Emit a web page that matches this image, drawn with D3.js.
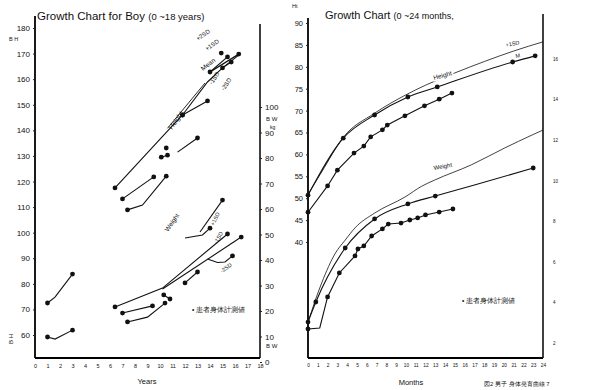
<!DOCTYPE html>
<html>
<head>
<meta charset="utf-8">
<script src="https://cdn.jsdelivr.net/npm/d3@7"></script>
<style>
  body { margin: 0; background: #fff; }
  text { font-family: "Liberation Sans", Arial, sans-serif; fill: #111; }
</style>
</head>
<body>
<svg id="chart" width="590" height="390"></svg>
<script>
// ---- left panel: 0-18 years, [year, cm] / [year, kg] ----
const yearTicks = d3.range(0, 19);
const heightTicks = d3.range(60, 181, 10);
const weightTicks = d3.range(0, 101, 10);

const boyHeightMean = [[6.4, 117.5], [9.8, 135.5], [11.8, 146.0], [13.8, 158.9], [15.0, 164.4], [16.4, 169.8]];
const boyHeightInner = [[10.6, 140.8], [13.6, 158.5]];
const boyHeightA = [[11.8, 146.0], [13.8, 151.5]];
const boyHeightTop1 = [[14.0, 162.8], [16.3, 169.8]];
const boyHeightTop2 = [[14.0, 162.8], [15.4, 168.7]];
const boyHeightTop3 = [[15.0, 164.4], [15.7, 166.7]];
const boyHeightTop4 = [[14.9, 170.2]];
const boyHeightB = [[7.0, 113.2], [9.5, 121.8]];
const boyHeightC = [[7.4, 108.9], [8.6, 110.8], [10.5, 122.1]];
const boyHeightD = [[10.1, 129.5], [10.6, 130.3]];
const boyHeightE = [[10.5, 133.1]];
const boyHeightF = [[11.4, 131.5], [13.0, 137.0]];
const boyHeightEarly = [[1.0, 72.5], [1.6, 74.8], [3.0, 83.8]];

const boyWeightMean = [[6.4, 21.6], [10.2, 29.0], [15.4, 50.2]];
const boyWeightLow = [[10.2, 28.6], [16.5, 49.0]];
const boyWeightA = [[12.0, 31.0], [13.0, 35.3]];
const boyWeightB = [[13.8, 40.4], [14.6, 39.0], [15.2, 39.2], [15.8, 41.6]];
const boyWeightC = [[13.2, 51.0], [15.0, 63.5]];
const boyWeightD = [[12.0, 48.6], [13.4, 49.8], [14.0, 52.5]];
const boyWeightE = [[7.0, 19.2], [9.4, 22.0]];
const boyWeightF = [[7.4, 15.7], [9.0, 17.6], [10.4, 23.1]];
const boyWeightG = [[10.3, 26.3], [10.8, 24.7]];
const boyWeightEarly = [[1.0, 9.8], [1.6, 9.0], [3.0, 12.5]];

// ---- right panel: 0-24 months, [month, cm] / [month, kg] ----
const monthTicks = d3.range(0, 25);
const infantHeightTicks = d3.range(40, 91, 5);
const infantWeightTicks = d3.range(2, 17, 2);

const infantHeightUpper = [[0, 50.9], [1.4, 56], [3.6, 63.9], [6.8, 69.4], [10, 73.6], [12, 75.8], [15, 78.6], [18, 81.2], [21, 83.6], [24, 85.7]];
const infantHeightMean = [[0, 50.7], [3.6, 63.7], [6.8, 69.0], [10.2, 73.1], [13.2, 75.4], [20.9, 81.1], [23.2, 82.5]];
const infantHeightPatient = [[0, 46.8], [2.0, 52.8], [3.0, 56.4], [4.7, 60.3], [5.7, 61.9], [6.4, 64.0], [7.6, 65.6], [8.1, 66.7], [9.9, 68.8], [11.9, 71.1], [13.4, 72.6], [14.7, 74.0]];

const infantWeightUpper = [[0, 3.03], [1.4, 4.96], [2.8, 6.43], [3.8, 7.07], [4.8, 7.67], [6.8, 8.40], [9.9, 9.19], [11.6, 9.72], [12.9, 10.02], [16.7, 10.78], [20.1, 11.61], [22.9, 12.25], [24, 12.49]];
const infantWeightMean = [[0, 3.03], [0.8, 4.02], [3.8, 6.68], [6.8, 8.11], [10.2, 8.85], [13.0, 9.24], [17.0, 9.78], [23.0, 10.62]];
const infantWeightPatient = [[0, 2.69], [1.2, 2.74], [2.0, 4.27], [3.2, 5.45], [4.8, 6.29], [5.1, 6.63], [5.7, 6.78], [6.5, 7.27], [7.6, 7.62], [8.2, 7.86], [9.5, 7.91], [10.4, 8.06], [11.2, 8.16], [12.0, 8.31], [13.4, 8.45], [14.8, 8.60]];

const svg = d3.select('#chart');

// scales
const xYear = d3.scaleLinear().domain([0, 18]).range([35, 260]);
const yHeight = d3.scaleLinear().domain([60, 180]).range([335, 28]);
const yWeight = d3.scaleLinear().domain([0, 100]).range([362, 107]);

const xMonth = d3.scaleLinear().domain([0, 24]).range([308, 543]);
const yInfantHt = d3.scaleLinear().domain([40, 90]).range([242, 23]);
const yInfantWt = d3.scaleLinear().domain([2, 12]).range([343, 140]);

function drawSeries(data, x, y, opts) {
  const o = Object.assign({ width: 1.1, markers: 'all', curve: d3.curveLinear, dash: null }, opts || {});
  if (data.length > 1) {
    svg.append('path')
      .datum(data)
      .attr('fill', 'none')
      .attr('stroke', '#111')
      .attr('stroke-width', o.width)
      .attr('stroke-dasharray', o.dash)
      .attr('d', d3.line().x(d => x(d[0])).y(d => y(d[1])).curve(o.curve));
  }
  let pts = [];
  if (o.markers === 'all') pts = data;
  else if (Array.isArray(o.markers)) pts = o.markers.map(i => data[i]);
  svg.append('g').selectAll('circle')
    .data(pts)
    .join('circle')
    .attr('cx', d => x(d[0]))
    .attr('cy', d => y(d[1]))
    .attr('r', 2.4)
    .attr('fill', '#111');
}

function label(txt, x, y, size, rot, anchor, halo) {
  const t = svg.append('text')
    .attr('x', x).attr('y', y)
    .attr('font-size', size)
    .attr('text-anchor', anchor || 'start')
    .text(txt);
  if (rot) t.attr('transform', 'rotate(' + rot + ',' + x + ',' + y + ')');
  if (halo) t.attr('stroke', '#fff').attr('stroke-width', 3).attr('paint-order', 'stroke');
  return t;
}

function styleAxis(g, size, color) {
  g.select('.domain').remove();
  g.selectAll('line').attr('stroke', '#222');
  g.selectAll('text')
    .style('font-family', '"Liberation Sans", Arial, sans-serif')
    .attr('font-size', size)
    .attr('fill', color || '#111');
}

// ================= LEFT PANEL =================
// frame lines
svg.append('line').attr('x1', xYear(0)).attr('x2', xYear(0)).attr('y1', 16).attr('y2', 358).attr('stroke', '#000').attr('stroke-width', 1.8);
svg.append('line').attr('x1', xYear(18)).attr('x2', xYear(18)).attr('y1', 24).attr('y2', 358).attr('stroke', '#000').attr('stroke-width', 1.5);
svg.append('line').attr('x1', xYear(0)).attr('x2', xYear(18)).attr('y1', 358).attr('y2', 358).attr('stroke', '#000').attr('stroke-width', 1.8);

svg.append('g')
  .attr('transform', 'translate(' + xYear(0) + ',0)')
  .call(d3.axisLeft(yHeight).tickValues(heightTicks).tickSize(2).tickPadding(3))
  .call(g => styleAxis(g, 8));

svg.append('g')
  .attr('transform', 'translate(' + xYear(18) + ',0)')
  .call(d3.axisRight(yWeight).tickValues(weightTicks).tickSize(2).tickPadding(3))
  .call(g => styleAxis(g, 8));

svg.append('g')
  .attr('transform', 'translate(0,362)')
  .call(d3.axisBottom(xYear).tickValues(yearTicks).tickSize(0).tickPadding(2))
  .call(g => styleAxis(g, 5.5, '#444'));

// height curves (left axis)
drawSeries(boyHeightMean, xYear, yHeight, { markers: [0, 2] });
drawSeries(boyHeightInner, xYear, yHeight, { markers: [], width: 0.9 });
drawSeries(boyHeightA, xYear, yHeight);
drawSeries(boyHeightTop1, xYear, yHeight, { width: 1.4 });
drawSeries(boyHeightTop2, xYear, yHeight, { markers: [1] });
drawSeries(boyHeightTop3, xYear, yHeight);
drawSeries(boyHeightTop4, xYear, yHeight);
drawSeries(boyHeightB, xYear, yHeight);
drawSeries(boyHeightC, xYear, yHeight, { markers: [0, 2] });
drawSeries(boyHeightD, xYear, yHeight);
drawSeries(boyHeightE, xYear, yHeight);
drawSeries(boyHeightF, xYear, yHeight, { markers: [1] });
drawSeries(boyHeightEarly, xYear, yHeight, { markers: [0, 2] });

// weight curves (right axis)
drawSeries(boyWeightMean, xYear, yWeight, { markers: [0, 2] });
drawSeries(boyWeightLow, xYear, yWeight, { markers: [1] });
drawSeries(boyWeightA, xYear, yWeight);
drawSeries(boyWeightB, xYear, yWeight, { markers: [3] });
drawSeries(boyWeightC, xYear, yWeight, { markers: [1] });
drawSeries(boyWeightD, xYear, yWeight, { markers: [2] });
drawSeries(boyWeightE, xYear, yWeight);
drawSeries(boyWeightF, xYear, yWeight, { markers: [0, 2] });
drawSeries(boyWeightG, xYear, yWeight);
drawSeries(boyWeightEarly, xYear, yWeight, { markers: [0, 2] });

// titles and labels
const t1 = svg.append('text').attr('x', 37).attr('y', 20).attr('font-size', 11.5);
t1.append('tspan').text('Growth Chart for Boy ');
t1.append('tspan').attr('font-size', 9.5).text('(0 ~18 years)');

label('B H', 9, 41, 5.5);
label('B H', 13, 344, 6, -90);
label('B W', 266, 121, 6);
label('kg', 270, 129, 5);
label('B W', 266, 348, 6);
label('Years', 147, 384, 7.5, 0, 'middle');

label('Height', 172, 130, 7, -55);
label('Mean', 203, 71, 6.5, -38);
label('+2SD', 198, 41, 6, -35);
label('+1SD', 207, 51, 6, -35);
label('-1SD', 212, 85, 6, -55);
label('-2SD', 224, 91, 6, -55);
label('Weight', 168, 232, 6.5, -55);
label('+1SD', 214, 226, 5.5, -65);
label('-1SD', 217, 244, 5.5, -60);
label('-2SD', 222, 273, 5.5, -35);
label('• 患者身体計測値', 192, 312, 6.5);

// ================= RIGHT PANEL =================
svg.append('line').attr('x1', xMonth(0)).attr('x2', xMonth(0)).attr('y1', 18).attr('y2', 358).attr('stroke', '#000').attr('stroke-width', 1.8);
svg.append('line').attr('x1', xMonth(24)).attr('x2', xMonth(24)).attr('y1', 14).attr('y2', 358).attr('stroke', '#000').attr('stroke-width', 1.5);
svg.append('line').attr('x1', xMonth(0)).attr('x2', xMonth(24)).attr('y1', 358).attr('y2', 358).attr('stroke', '#000').attr('stroke-width', 1.8);

svg.append('g')
  .attr('transform', 'translate(' + xMonth(0) + ',0)')
  .call(d3.axisLeft(yInfantHt).tickValues(infantHeightTicks).tickSize(2).tickPadding(3))
  .call(g => styleAxis(g, 7.5));

svg.append('g')
  .attr('transform', 'translate(' + xMonth(24) + ',0)')
  .call(d3.axisRight(yInfantWt).tickValues(infantWeightTicks).tickSize(0).tickPadding(10))
  .call(g => styleAxis(g, 4.5, '#777'));

svg.append('g')
  .attr('transform', 'translate(0,362)')
  .call(d3.axisBottom(xMonth).tickValues(monthTicks).tickSize(0).tickPadding(2))
  .call(g => styleAxis(g, 4.8, '#444'));

drawSeries(infantHeightUpper, xMonth, yInfantHt, { markers: [], width: 0.8, curve: d3.curveMonotoneX });
drawSeries(infantHeightMean, xMonth, yInfantHt, { curve: d3.curveMonotoneX });
drawSeries(infantHeightPatient, xMonth, yInfantHt);

drawSeries(infantWeightUpper, xMonth, yInfantWt, { markers: [], width: 0.8, curve: d3.curveMonotoneX });
drawSeries(infantWeightMean, xMonth, yInfantWt, { markers: [0, 1, 2, 3, 4, 5, 7], curve: d3.curveMonotoneX });
drawSeries(infantWeightPatient, xMonth, yInfantWt, { markers: [0, 2, 3, 4, 5, 6, 7, 8, 9, 10, 11, 12, 13, 14, 15] });

const t2 = svg.append('text').attr('x', 325).attr('y', 19).attr('font-size', 11);
t2.append('tspan').text('Growth Chart ');
t2.append('tspan').attr('font-size', 9).text('(0 ~24 months,');

label('Ht', 292, 8, 5.5);
label('Height', 434, 80, 6.5, -15, 'start', true);
label('Weight', 434, 170, 6, -10, 'start', true);
label('+1SD', 506, 47, 5.5, -12, 'start', true);
label('M', 516, 58, 5.5, -12, 'start', true);
label('• 患者身体計測値', 462, 303, 6.5);
label('Months', 411, 385, 7.5, 0, 'middle');
label('図2  男子  身体発育曲線  7', 484, 386, 6, 0, 'start');
</script>
</body>
</html>
